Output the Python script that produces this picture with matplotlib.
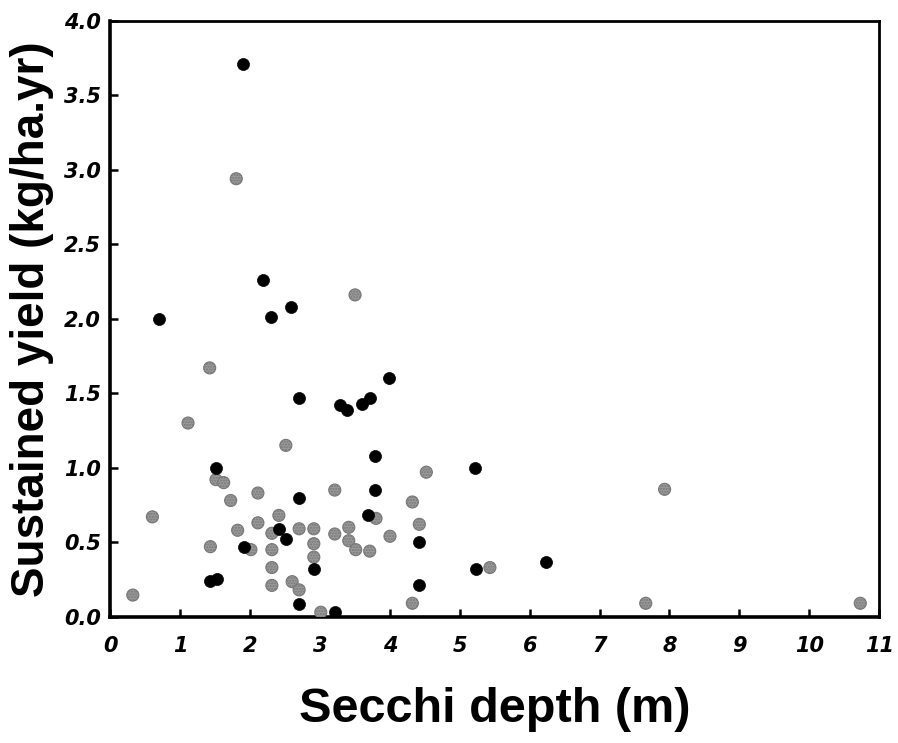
import matplotlib
matplotlib.use("Agg")
import matplotlib.pyplot as plt

# Black (dark) points
black_x = [1.89, 0.69, 2.19, 2.30, 2.59, 3.99, 2.70, 3.29, 3.39, 3.60, 3.71,
           3.79, 5.21, 3.79, 2.70, 3.69, 2.41, 2.51, 4.42, 2.91, 5.23, 4.42,
           2.70, 3.21, 1.51, 1.91, 1.43, 1.52, 6.23]
black_y = [3.71, 2.00, 2.26, 2.01, 2.08, 1.60, 1.47, 1.42, 1.39, 1.43, 1.47,
           1.08, 1.00, 0.85, 0.80, 0.68, 0.59, 0.52, 0.50, 0.32, 0.32, 0.21,
           0.085, 0.03, 1.00, 0.47, 0.24, 0.25, 0.365]

# Gray (stippled) points
gray_x = [1.80, 3.50, 1.42, 2.51, 4.52, 2.11, 3.21, 4.32, 3.80, 2.41, 2.11,
          4.42, 2.31, 2.70, 2.91, 2.91, 2.91, 3.21, 3.41, 3.41, 3.51, 3.71,
          4.00, 2.01, 2.31, 2.31, 2.31, 2.60, 2.70, 3.01, 5.43, 4.32, 1.11,
          1.51, 1.62, 1.72, 0.60, 1.82, 1.43, 0.32, 7.93, 7.66, 10.73]
gray_y = [2.94, 2.16, 1.67, 1.15, 0.97, 0.83, 0.85, 0.77, 0.66, 0.68, 0.63,
          0.62, 0.56, 0.59, 0.59, 0.49, 0.40, 0.555, 0.60, 0.51, 0.45, 0.44,
          0.54, 0.45, 0.45, 0.33, 0.21, 0.235, 0.18, 0.03, 0.33, 0.09, 1.30,
          0.92, 0.90, 0.78, 0.67, 0.58, 0.47, 0.145, 0.855, 0.09, 0.09]

x_ticks = list(range(0, 12))
y_ticks = [0.0, 0.5, 1.0, 1.5, 2.0, 2.5, 3.0, 3.5, 4.0]

fig = plt.figure(figsize=(8.98, 7.43), dpi=100)
ax = fig.add_axes([0.123, 0.170, 0.856, 0.802])

ax.scatter(gray_x, gray_y, s=75, facecolor="#9a9a9a", edgecolor="#777777",
           linewidth=0.8, hatch="......", zorder=3)
ax.scatter(black_x, black_y, s=75, facecolor="black", edgecolor="black",
           linewidth=0.5, zorder=4)

ax.set_xlim(0, 11)
ax.set_ylim(0, 4.0)
ax.set_xticks(x_ticks)
ax.set_yticks(y_ticks)
ax.set_xticklabels([str(t) for t in x_ticks])
ax.set_yticklabels([f"{t:.1f}" for t in y_ticks])

for lab in ax.get_xticklabels() + ax.get_yticklabels():
    lab.set_fontfamily("DejaVu Sans")
    lab.set_fontstyle("oblique")
    lab.set_fontweight("bold")
    lab.set_fontsize(15)

ax.tick_params(axis="x", direction="in", length=6, width=1.8, pad=14,
               top=False)
ax.tick_params(axis="y", direction="in", length=6, width=1.8, pad=7,
               right=False)

for side in ["left", "bottom"]:
    ax.spines[side].set_linewidth(2.6)
for side in ["top", "right"]:
    ax.spines[side].set_linewidth(2.0)

ax.set_xlabel("Secchi depth (m)", fontfamily="Liberation Sans",
              fontweight="bold", fontsize=35, labelpad=22)
ax.set_ylabel("Sustained yield (kg/ha.yr)", fontfamily="Liberation Sans",
              fontweight="bold", fontsize=33, labelpad=7)

fig.savefig("out.png", dpi=100)
